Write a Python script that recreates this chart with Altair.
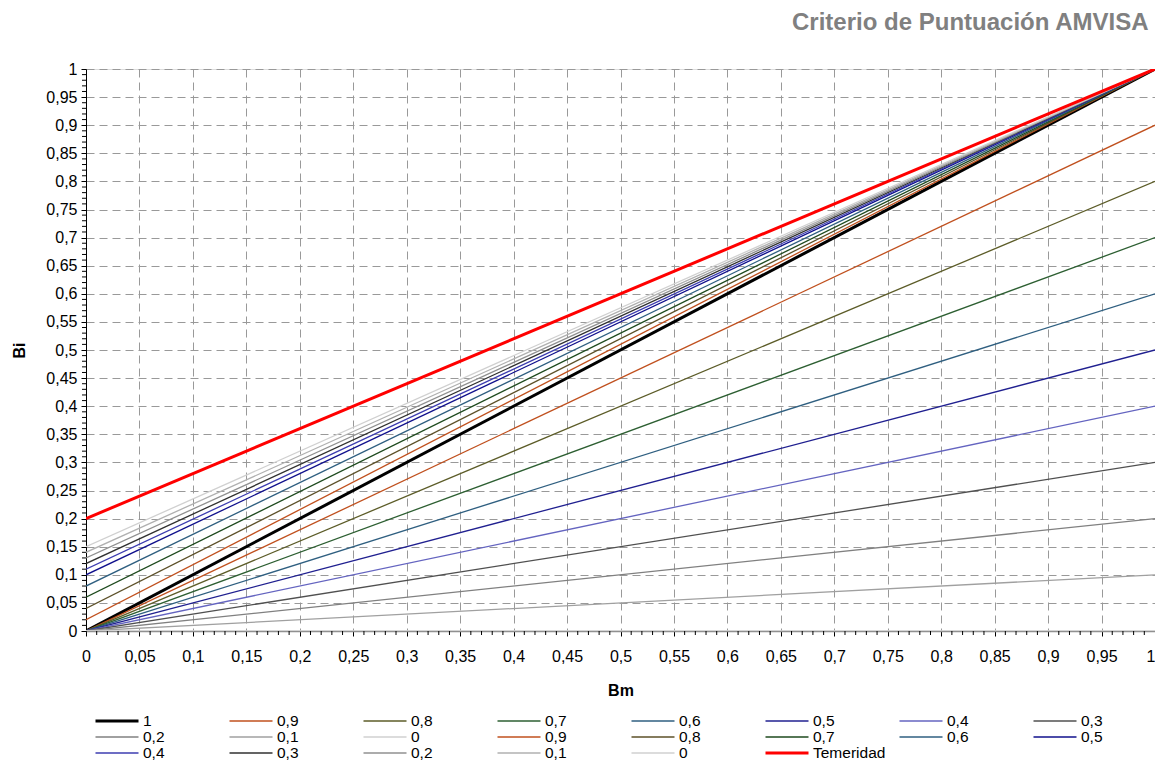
import altair as alt
import pandas as pd

# ---- data ----
# lines from (0,0) to (1,k)
set_a_labels = ["1", "0,9", "0,8", "0,7", "0,6", "0,5", "0,4", "0,3", "0,2", "0,1", "0"]
set_a_end = [1.0, 0.9, 0.8, 0.7, 0.6, 0.5, 0.4, 0.3, 0.2, 0.1, 0.0]
# lines from (0,b) to (1,1)
set_b_labels = ["0,9", "0,8", "0,7", "0,6", "0,5", "0,4", "0,3", "0,2", "0,1", "0"]
set_b_start = [0.02, 0.04, 0.06, 0.08, 0.10, 0.11, 0.12, 0.13, 0.14, 0.15]
tem_label = "Temeridad"
tem_start = 0.20
tem_end = 1.0

colors_a = ["#000000", "#C0501E", "#5C5C28", "#2D5F32", "#2F5F80", "#202090",
            "#6464C0", "#505050", "#808080", "#A0A0A0", "#D0D0D0"]
colors_b = ["#C0501E", "#5C5028", "#1E4A1E", "#2F5F80", "#10108C", "#3C3CB0",
            "#303030", "#909090", "#B0B0B0", "#D0D0D0"]
color_tem = "#FF0000"

major_ticks = [round(i * 0.05, 2) for i in range(21)]
minor_ticks = [round(i * 0.01, 2) for i in range(101) if i % 5 != 0]

# ---- build table ----
rows = []
keys = []
for i, (lab, k) in enumerate(zip(set_a_labels, set_a_end)):
    key = f"A{i:02d}|{lab}"
    keys.append(key)
    rows += [{"serie": key, "Bm": 0.0, "Bi": 0.0}, {"serie": key, "Bm": 1.0, "Bi": k}]
for i, (lab, b) in enumerate(zip(set_b_labels, set_b_start)):
    key = f"B{i:02d}|{lab}"
    keys.append(key)
    rows += [{"serie": key, "Bm": 0.0, "Bi": b}, {"serie": key, "Bm": 1.0, "Bi": 1.0}]
tkey = f"C00|{tem_label}"
keys.append(tkey)
rows += [{"serie": tkey, "Bm": 0.0, "Bi": tem_start}, {"serie": tkey, "Bm": 1.0, "Bi": tem_end}]
df = pd.DataFrame(rows)

color_range = colors_a + colors_b + [color_tem]
width_range = [3] + [1.3] * 20 + [3]

W, H = 1069, 562
FONT = "Liberation Sans"
label_expr = "replace(format(datum.value, '.2~f'), '.', ',')"

xscale = alt.Scale(domain=[0, 1], nice=False, zero=False)
yscale = alt.Scale(domain=[0, 1], nice=False, zero=False)

xaxis = alt.Axis(values=major_ticks, labelExpr=label_expr, grid=True,
                 gridDash=[8, 5], gridColor="#999999", gridWidth=1,
                 tickSize=5, tickColor="#000000", domainColor="#909090",
                 domainWidth=1.5, labelFont=FONT, labelFontSize=16,
                 labelColor="#000000", labelPadding=12, labelFlush=False,
                 labelAlign=alt.condition("datum.value >= 1", alt.value("right"), alt.value("center")),
                 title="Bm", titleFont=FONT, titleFontSize=16, titleFontWeight="bold",
                 titleColor="#000000", titlePadding=18)
yaxis = alt.Axis(values=major_ticks, labelExpr=label_expr, grid=True,
                 gridDash=[8, 5], gridColor="#999999", gridWidth=1,
                 tickSize=5, tickColor="#000000", domainColor="#000000",
                 labelFont=FONT, labelFontSize=16, labelColor="#000000",
                 labelPadding=4, labelFlush=False,
                 title="Bi", titleFont=FONT, titleFontSize=16, titleFontWeight="bold",
                 titleColor="#000000", titlePadding=18)

legend = alt.Legend(
    title=None, orient="none", legendX=8, legendY=644.5, columns=8,
    direction="horizontal", gridAlign="all", columnPadding=12, rowPadding=0,
    clipHeight=15, symbolType="stroke", symbolSize=1849, labelOffset=3,
    labelFont=FONT, labelFontSize=15.5, labelColor="#000000", padding=0,
    labelExpr="split(datum.label, '|')[1]",
)

lines = alt.Chart(df).mark_line(clip=True).encode(
    x=alt.X("Bm:Q", scale=xscale, axis=xaxis),
    y=alt.Y("Bi:Q", scale=yscale, axis=yaxis),
    color=alt.Color("serie:N", scale=alt.Scale(domain=keys, range=color_range), legend=legend),
    strokeWidth=alt.StrokeWidth("serie:N",
                                scale=alt.Scale(type="ordinal", domain=keys, range=width_range),
                                legend=legend),
    detail="serie:N",
)

minor_df = pd.DataFrame({"Bi": minor_ticks, "Bm": minor_ticks})
ymin = alt.Chart(minor_df).mark_rule(color="#000000", strokeWidth=1).encode(
    y=alt.Y("Bi:Q", scale=yscale, axis=yaxis),
    x=alt.value(-4), x2=alt.value(0),
)
xmin = alt.Chart(minor_df).mark_rule(color="#000000", strokeWidth=1).encode(
    x=alt.X("Bm:Q", scale=xscale, axis=xaxis),
    y=alt.value(H), y2=alt.value(H + 4),
)

chart = alt.layer(lines, ymin, xmin).properties(
    width=W, height=H,
    title=alt.TitleParams("Criterio de Puntuación AMVISA", anchor="end", font=FONT,
                          fontSize=24, fontWeight="bold", color="#808080",
                          offset=26, dx=-7),
    padding={"left": 78, "top": 61, "right": 0, "bottom": 130},
    autosize=alt.AutoSizeParams(type="none"),
).configure_view(stroke="#909090", strokeWidth=1.5).configure(background="#ffffff")

chart.save("out.html", embed_options={"renderer": "svg", "actions": False})
